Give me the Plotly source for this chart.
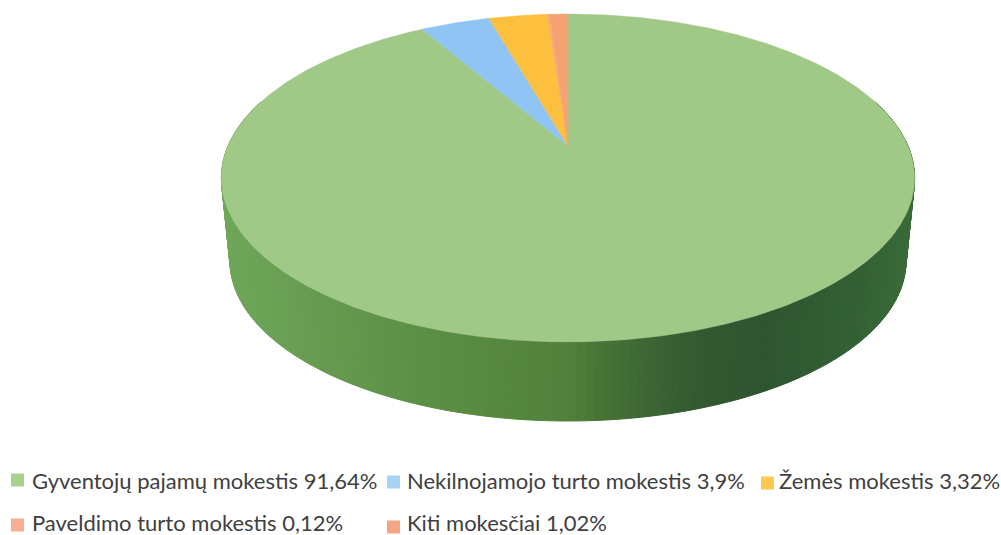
import numpy as np
import plotly.graph_objects as go

categories = ["Gyventojų pajamų mokestis", "Nekilnojamojo turto mokestis", "Žemės mokestis",
              "Paveldimo turto mokestis", "Kiti mokesčiai"]
values = [91.64, 3.9, 3.32, 0.12, 1.02]
value_labels = ["91,64%", "3,9%", "3,32%", "0,12%", "1,02%"]

slice_colors = ["#a0c987", "#8fc4f4", "#fcc03e", "#f7a878", "#f5a273"]
legend_colors = ["#a9d18e", "#a6d3f2", "#ffc94f", "#f9ae92", "#f5a583"]
legend_x = [11, 387, 761, 11, 387]
legend_text_x = [30, 405, 777, 30, 405]
legend_y = [480, 482, 483, 525, 527]
legend_text_y = [480, 480, 480, 522, 522]

CX, CY, A, B, K = 568, 146, 340, 157.7, 0.195
DEPTH, SHRINK = 84, 0.975


def project(theta, r=1.0, dy=0.0, s=1.0):
    u, v = r * np.sin(theta), r * np.cos(theta)
    w = 1 + K * v
    return CX + s * A * u / w, CY + dy - s * B * v / w


fig = go.Figure()

# side wall, shaded by horizontal position
shade_x = [220, 400, 565, 585, 640, 700, 760, 850, 915]
shade_r = [0x70, 0x5e, 0x52, 0x4c, 0x3e, 0x34, 0x2e, 0x33, 0x3c]
shade_g = [0xa8, 0x92, 0x82, 0x7a, 0x68, 0x59, 0x55, 0x60, 0x6c]
shade_b = [0x5a, 0x48, 0x3c, 0x38, 0x36, 0x30, 0x30, 0x34, 0x39]
n = 180
thetas = np.linspace(np.pi / 2 - 0.3, 3 * np.pi / 2 + 0.3, n + 1)
for a, b in zip(thetas[:-1], thetas[1:]):
    seg = np.array([a, b])
    x1, y1 = project(seg)
    x2, y2 = project(seg[::-1], dy=DEPTH, s=SHRINK)
    xm = (x1.mean() + x2.mean()) / 2
    col = "rgb(%d,%d,%d)" % (np.interp(xm, shade_x, shade_r),
                             np.interp(xm, shade_x, shade_g),
                             np.interp(xm, shade_x, shade_b))
    fig.add_trace(go.Scatter(x=[*x1, *x2, x1[0]], y=[*y1, *y2, y1[0]], mode="lines",
                             fill="toself", fillcolor=col, line=dict(color=col, width=1),
                             hoverinfo="skip", showlegend=False))

# top face, slices clockwise from 12 o'clock
start = 0.0
total = sum(values)
for name, val, col in zip(categories, values, slice_colors):
    end = start + val / total * 2 * np.pi
    t = np.linspace(start, end, max(3, int(val * 6)))
    x, y = project(t)
    fig.add_trace(go.Scatter(x=[CX, *x, CX], y=[CY, *y, CY], mode="lines", fill="toself",
                             fillcolor=col, line=dict(color=col, width=0.5), name=name,
                             hoverinfo="name", showlegend=False))
    start = end

# legend
for name, lab, col, lx, tx, ly, ty in zip(categories, value_labels, legend_colors,
                                          legend_x, legend_text_x, legend_y, legend_text_y):
    fig.add_shape(type="rect", x0=lx, x1=lx + 13, y0=ly - 6.5, y1=ly + 6.5,
                  fillcolor=col, line=dict(width=0))
    fig.add_annotation(x=tx, y=ty, text=f"{name} {lab}", showarrow=False, xanchor="left",
                       yanchor="middle", font=dict(family="Lato", size=22, color="#404040"))

fig.update_layout(width=1001, height=535, margin=dict(l=0, r=0, t=0, b=0),
                  paper_bgcolor="white", plot_bgcolor="white", showlegend=False,
                  xaxis=dict(range=[0, 1001], visible=False),
                  yaxis=dict(range=[535, 0], visible=False))
fig.write_html("out.html", post_script="document.body.style.margin='0';",
               config=dict(displayModeBar=False))
